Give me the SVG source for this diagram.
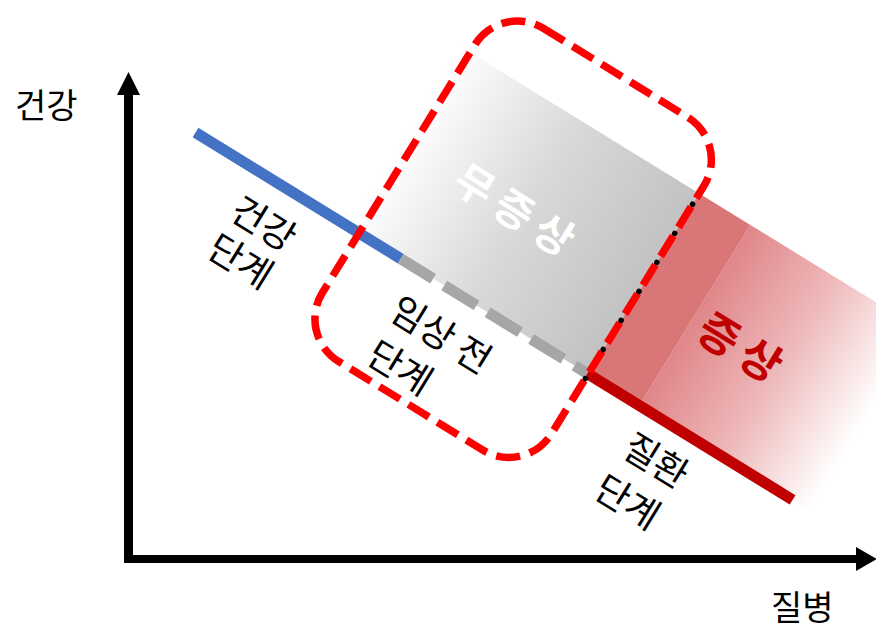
<svg xmlns="http://www.w3.org/2000/svg" width="876" height="630" viewBox="0 0 876 630">
<style>
.t{font-family:"Noto Sans CJK KR","Noto Sans",sans-serif;font-size:37px;fill:#000}
.big{font-family:"Noto Sans CJK KR","Noto Sans",sans-serif;font-weight:bold;text-anchor:middle;letter-spacing:8px}
.ax{font-family:"Noto Sans CJK KR","Noto Sans",sans-serif;font-size:34px;fill:#000}
</style>
<defs>
<linearGradient id="gGray" gradientUnits="userSpaceOnUse" x1="180" y1="0" x2="461" y2="0">
<stop offset="0" stop-color="#ffffff"/>
<stop offset="0.5" stop-color="#d9d9d9"/>
<stop offset="1" stop-color="#c2c2c2"/>
</linearGradient>
<linearGradient id="gRed" gradientUnits="userSpaceOnUse" x1="521" y1="0" x2="721" y2="0">
<stop offset="0" stop-color="#e0868a"/>
<stop offset="0.5" stop-color="#eeb9ba"/>
<stop offset="1" stop-color="#ffffff"/>
</linearGradient>
</defs>
<g id="bands" transform="translate(195.5 132.5) rotate(31.6)">
<rect x="180" y="-212" width="281" height="212" fill="url(#gGray)"/>
<rect x="521" y="-212" width="400" height="212" fill="url(#gRed)"/>
<rect x="461" y="-212" width="60" height="212" fill="#d97778"/>
</g>
<g id="connectors">
<g transform="translate(195.5 132.5) rotate(31.6)">
<line x1="0" y1="0" x2="241" y2="0" stroke="#4472c4" stroke-width="11"/>
<line x1="241" y1="0" x2="460" y2="0" stroke="#a6a6a6" stroke-width="11" stroke-dasharray="38 13"/>
<line x1="460" y1="0" x2="701" y2="0" stroke="#c00000" stroke-width="11"/>
</g>
<line x1="128.5" y1="563" x2="128.5" y2="92" stroke="#000" stroke-width="9"/>
<polygon points="128.5,72 117,95 140,95" fill="#000"/>
<line x1="124" y1="559" x2="858" y2="559" stroke="#000" stroke-width="8"/>
<polygon points="877,559 856,547 856,571" fill="#000"/>
</g>
<g id="box" transform="translate(195.5 132.5) rotate(31.6)">
<rect x="192" y="-271" width="269" height="391" rx="50" ry="50" fill="none" stroke="#ff0000" stroke-width="7.5" stroke-dasharray="24 10"/>
<g fill="#000">
<circle cx="461" cy="5.3" r="2.8"/>
<circle cx="461" cy="-28.8" r="2.8"/>
<circle cx="461" cy="-62.9" r="2.8"/>
<circle cx="461" cy="-97" r="2.8"/>
<circle cx="461" cy="-131.1" r="2.8"/>
<circle cx="461" cy="-165.2" r="2.8"/>
<circle cx="461" cy="-199.3" r="2.8"/>
</g>
</g>
<g id="label-health-axis"><text class="ax" x="15" y="118">건강</text></g>
<g id="label-disease-axis"><text class="ax" x="771" y="620">질병</text></g>
<g id="healthy-stage" transform="translate(250.7 215) rotate(31.6)">
<text class="t" x="-18.5" y="14">건강<tspan x="-18.5" dy="44">단계</tspan></text>
</g>
<g id="preclinical-stage" transform="translate(410 315) rotate(31.6)">
<text class="t" x="-18.5" y="14">임상 전<tspan x="-15" dy="49.5">단계</tspan></text>
</g>
<g id="disease-stage" transform="translate(643 452) rotate(31.6)">
<text class="t" x="-18.5" y="14">질환<tspan x="-21" dy="50">단계</tspan></text>
</g>
<g id="asymptomatic" transform="translate(514.5 209.5) rotate(32)">
<text class="big" x="4" y="16" font-size="42" fill="#ffffff">무증상</text>
</g>
<g id="symptomatic" transform="translate(740.5 346.5) rotate(31.6)">
<text class="big" x="4" y="17" font-size="44" fill="#c00000">증상</text>
</g>
</svg>
